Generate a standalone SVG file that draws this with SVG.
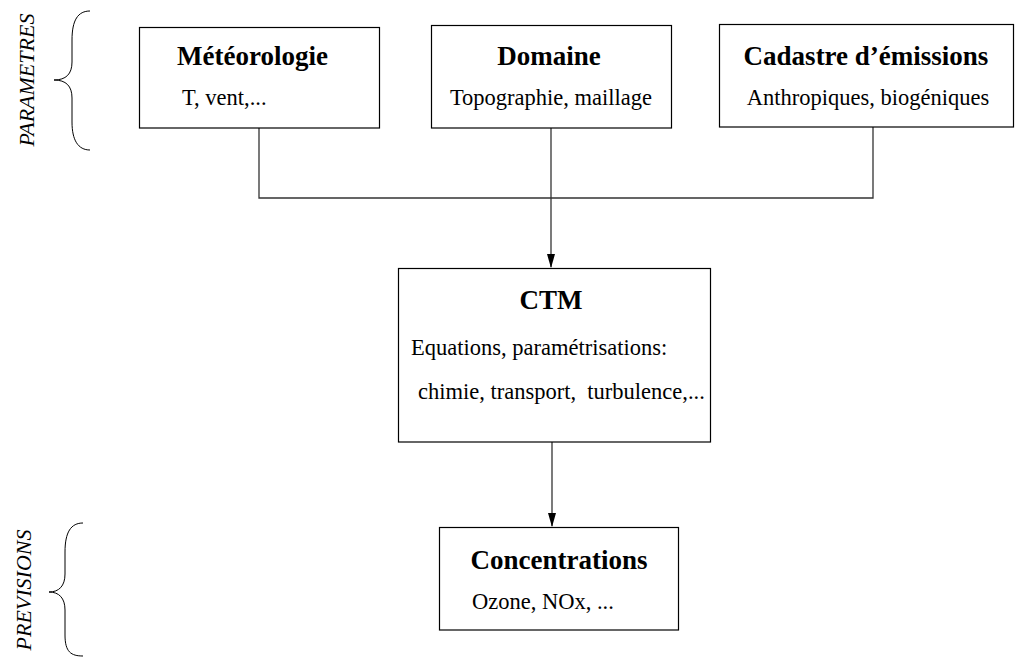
<svg xmlns="http://www.w3.org/2000/svg" width="1017" height="660" viewBox="0 0 1017 660">
<defs>
<style>
.box{fill:#fff;stroke:#000;stroke-width:1.2}
.title{font-family:"Liberation Serif","Times New Roman",serif;font-weight:bold;font-size:27px;fill:#000}
.body{font-family:"Liberation Serif","Times New Roman",serif;font-size:22.5px;fill:#000}
.side{font-family:"Liberation Serif","Times New Roman",serif;font-style:italic;font-size:22px;fill:#000}
.conn{fill:none;stroke:#333;stroke-width:1.3}
.brace{fill:none;stroke:#000;stroke-width:1}
</style>
</defs>
<rect width="1017" height="660" fill="#fff"/>

<g id="label-parametres">
<path class="brace" d="M90,11 C78,11 72,20 72,40 L72,62 C72,74 66,80 54,80 C66,80 72,86 72,98 L72,122 C72,140 78,150 90,150"/>
<text class="side" transform="translate(34,80) rotate(-90)" text-anchor="middle">PARAMETRES</text>
</g>
<g id="label-previsions">
<path class="brace" d="M83,523 C71,523 65,532 65,552 L65,574 C65,586 59,592 49,592 C59,592 65,598 65,610 L65,635 C65,652 71,656 83,656"/>
<text class="side" transform="translate(31,590) rotate(-90)" text-anchor="middle">PREVISIONS</text>
</g>

<g id="connectors">
<path class="conn" d="M259,128 V198 H873 V127"/>
<line class="conn" x1="551" y1="128" x2="551" y2="267"/>
<path d="M551,268 L547,254 L555,254 z" fill="#000"/>
<line class="conn" x1="552" y1="442" x2="552" y2="526"/>
<path d="M552,527 L548,513 L556,513 z" fill="#000"/>
</g>

<g id="meteorologie">
<rect class="box" x="139.5" y="27.5" width="240" height="100.5"/>
<text class="title" x="177" y="65">Météorologie</text>
<text class="body" x="182" y="105">T, vent,...</text>
</g>
<g id="domaine">
<rect class="box" x="431.5" y="25.5" width="240" height="102.5"/>
<text class="title" x="549" y="65" text-anchor="middle">Domaine</text>
<text class="body" x="551" y="105" text-anchor="middle">Topographie, maillage</text>
</g>
<g id="cadastre">
<rect class="box" x="719.5" y="24.5" width="294" height="102.5"/>
<text class="title" x="866" y="65" text-anchor="middle">Cadastre d’émissions</text>
<text class="body" x="868" y="105" text-anchor="middle">Anthropiques, biogéniques</text>
</g>
<g id="ctm">
<rect class="box" x="398.5" y="268.5" width="312" height="173.5"/>
<text class="title" x="551" y="309" text-anchor="middle">CTM</text>
<text class="body" x="411" y="355">Equations, paramétrisations:</text>
<text class="body" x="418" y="399" xml:space="preserve">chimie, transport,  turbulence,...</text>
</g>
<g id="concentrations">
<rect class="box" x="439.5" y="527.5" width="239" height="102.5"/>
<text class="title" x="559" y="569" text-anchor="middle">Concentrations</text>
<text class="body" x="472" y="609">Ozone, NOx, ...</text>
</g>
</svg>
